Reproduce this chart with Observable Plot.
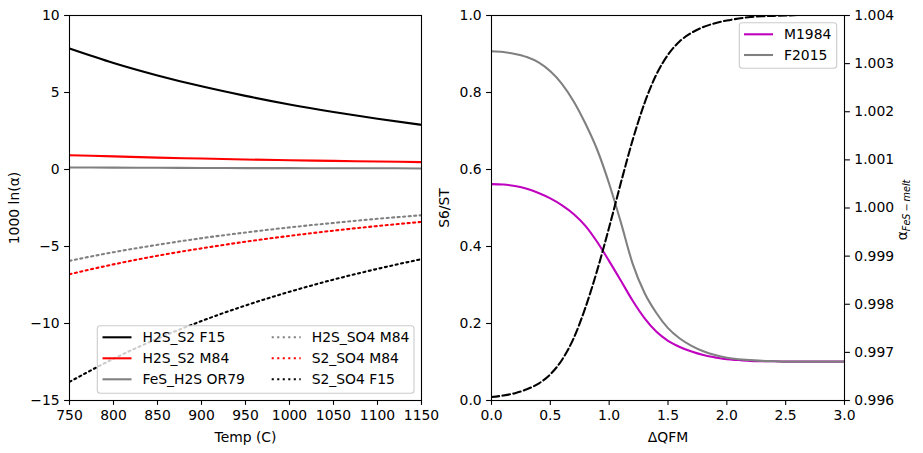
<!DOCTYPE html>
<html>
<head>
<meta charset="utf-8">
<script src="https://cdn.jsdelivr.net/npm/d3@7"></script>
<script src="https://cdn.jsdelivr.net/npm/@observablehq/plot@0.6"></script>
<style>
  body { margin: 0; background: #fff; }
  #fig { position: relative; width: 923px; height: 453px; font-family: "DejaVu Sans", sans-serif; }
  #fig svg { position: absolute; left: 0; top: 0; }
</style>
</head>
<body>
<div id="fig"></div>
<script>
// ---- Left panel: 1000 ln(alpha) versus temperature ----
const temps = [750, 800, 850, 900, 950, 1000, 1050, 1100, 1150];
const h2sS2F15   = [7.86, 6.92, 6.11, 5.40, 4.78, 4.22, 3.73, 3.29, 2.90];
const h2sS2M84   = [0.93, 0.85, 0.77, 0.71, 0.65, 0.60, 0.56, 0.52, 0.48];
const fesH2sOR79 = [0.13, 0.12, 0.11, 0.10, 0.09, 0.09, 0.08, 0.08, 0.07];
const h2sSo4M84  = [-5.93, -5.37, -4.89, -4.46, -4.09, -3.76, -3.47, -3.20, -2.97];
const s2So4M84   = [-6.80, -6.16, -5.60, -5.12, -4.69, -4.31, -3.97, -3.67, -3.40];
const s2So4F15   = [-13.79, -12.29, -10.98, -9.84, -8.83, -7.94, -7.15, -6.45, -5.82];
const leftNames = ["H2S_S2 F15", "H2S_S2 M84", "FeS_H2S OR79", "H2S_SO4 M84", "S2_SO4 M84", "S2_SO4 F15"];
const tempTicks = [750, 800, 850, 900, 950, 1000, 1050, 1100, 1150];
const lnTicks = [-15, -10, -5, 0, 5, 10];

// ---- Right panel: S6/ST and alpha(FeS-melt) versus delta QFM ----
const dQFM = [0.0, 0.1, 0.2, 0.3, 0.4, 0.5, 0.6, 0.7, 0.8, 0.9, 1.0, 1.1, 1.2, 1.3, 1.4, 1.5,
              1.6, 1.7, 1.8, 1.9, 2.0, 2.1, 2.2, 2.3, 2.4, 2.5, 2.6, 2.7, 2.8, 2.9, 3.0];
const s6M1984 = [0.562, 0.561, 0.557, 0.550, 0.539, 0.525, 0.507, 0.484, 0.453, 0.411, 0.362,
                 0.311, 0.259, 0.214, 0.179, 0.155, 0.139, 0.127, 0.118, 0.112, 0.107, 0.105,
                 0.103, 0.102, 0.102, 0.101, 0.101, 0.101, 0.101, 0.101, 0.101];
const s6F2015 = [0.907, 0.905, 0.900, 0.892, 0.878, 0.855, 0.822, 0.776, 0.718, 0.650, 0.563,
                 0.462, 0.355, 0.280, 0.228, 0.188, 0.161, 0.142, 0.128, 0.118, 0.111, 0.107,
                 0.105, 0.103, 0.102, 0.101, 0.101, 0.101, 0.101, 0.101, 0.101];
const alphaFeSMelt = [0.996072, 0.996104, 0.996152, 0.996232, 0.996352, 0.996544, 0.996848,
                      0.997304, 0.997944, 0.998720, 0.999600, 1.000528, 1.001416, 1.002176,
                      1.002768, 1.003184, 1.003464, 1.003640, 1.003760, 1.003840, 1.003896,
                      1.003936, 1.003968, 1.003984, 1.003992, 1.004000, 1.004010, 1.004020,
                      1.004020, 1.004030, 1.004030];
const rightNames = ["M1984", "F2015"];
const qfmTicks = [0, 0.5, 1, 1.5, 2, 2.5, 3];
const s6Ticks = [0, 0.2, 0.4, 0.6, 0.8, 1.0];
const alphaTicks = [0.996, 0.997, 0.998, 0.999, 1.000, 1.001, 1.002, 1.003, 1.004];

// ---- drawing ----
const W = 923, H = 453;
const LW = 2.08;                 // 1.5 pt line width
const DOT = "2.08,3.44";         // ':' style
const DASH = "7.7,3.33";         // '--' style
const style = {fontFamily: "'DejaVu Sans', sans-serif", fontSize: "13.9px", background: "transparent", color: "black", overflow: "visible"};
const tick = {tickSize: 4.9, tickPadding: 4.9, strokeWidth: 1.1};
const minusFmt = d => (d < 0 ? "\u2212" + Math.abs(d) : String(d));

const leftValues = [h2sS2F15, h2sS2M84, fesH2sOR79, h2sSo4M84, s2So4M84, s2So4F15];
const leftStroke = ["black", "red", "grey", "grey", "red", "black"];
const leftDash = [null, null, null, DOT, DOT, DOT];

const leftPlot = Plot.plot({
  width: W, height: H,
  marginLeft: 69, marginRight: W - 421, marginTop: 15, marginBottom: H - 400,
  style,
  x: {domain: [750, 1150]},
  y: {domain: [-15, 10]},
  marks: [
    ...leftValues.map((vals, i) => Plot.line(vals, {
      x: temps, y: vals, stroke: leftStroke[i], strokeWidth: LW,
      strokeDasharray: leftDash[i], curve: "monotone-x", clip: true
    })),
    Plot.frame({stroke: "black", strokeWidth: 1.1}),
    Plot.axisX({...tick, ticks: tempTicks, tickFormat: d => String(d),
      label: "Temp (C)", labelAnchor: "center", labelArrow: "none", labelOffset: 41}),
    Plot.axisY({...tick, ticks: lnTicks, tickFormat: minusFmt,
      label: "1000 ln(α)", labelAnchor: "center", labelArrow: "none", labelOffset: 60})
  ]
});

const rightValues = [s6M1984, s6F2015];
const rightStroke = ["#bf00bf", "grey"];

const rightPlot = Plot.plot({
  width: W, height: H,
  marginLeft: 491, marginRight: W - 844, marginTop: 15, marginBottom: H - 400,
  style,
  x: {domain: [0, 3]},
  y: {domain: [0, 1]},
  marks: [
    ...rightValues.map((vals, i) => Plot.line(vals, {
      x: dQFM, y: vals, stroke: rightStroke[i], strokeWidth: LW, curve: "monotone-x", clip: true
    })),
    Plot.frame({stroke: "black", strokeWidth: 1.1}),
    Plot.axisX({...tick, ticks: qfmTicks, tickFormat: d3.format(".1f"),
      label: "ΔQFM", labelAnchor: "center", labelArrow: "none", labelOffset: 41}),
    Plot.axisY({...tick, ticks: s6Ticks, tickFormat: d3.format(".1f"),
      label: "S6/ST", labelAnchor: "center", labelArrow: "none", labelOffset: 52})
  ]
});

// twin axis on the right for the fractionation factor
const alphaPlot = Plot.plot({
  width: W, height: H,
  marginLeft: 491, marginRight: W - 844, marginTop: 15, marginBottom: H - 400,
  style,
  x: {domain: [0, 3], axis: null},
  y: {domain: [0.996, 1.004], axis: null},
  marks: [
    Plot.line(alphaFeSMelt, {x: dQFM, y: alphaFeSMelt, stroke: "black", strokeWidth: LW,
      strokeDasharray: DASH, curve: "monotone-x", clip: true}),
    Plot.axisY({...tick, anchor: "right", ticks: alphaTicks, tickFormat: d3.format(".3f"), label: null})
  ]
});

const aLabel = d3.select(alphaPlot).append("text")
  .attr("transform", "translate(906.5,210) rotate(-90)")
  .attr("text-anchor", "middle")
  .attr("fill", "black")
  .attr("font-size", "13.9px");
aLabel.append("tspan").text("α");
aLabel.append("tspan").attr("font-style", "italic").attr("font-size", "9.7px").attr("dy", "3.5").text("FeS\u2009\u2212\u2009melt");

// legends
const legendSvg = d3.create("svg").attr("width", W).attr("height", H)
  .attr("font-family", "'DejaVu Sans', sans-serif").attr("font-size", "13.9px");

function drawLegend(box, entries) {
  const g = legendSvg.append("g");
  g.append("rect").attr("x", box.x).attr("y", box.y).attr("width", box.w).attr("height", box.h)
    .attr("rx", 3).attr("fill", "white").attr("fill-opacity", 0.8)
    .attr("stroke", "#cccccc").attr("stroke-width", 1.1);
  for (const e of entries) {
    g.append("line").attr("x1", e.x).attr("x2", e.x + 29).attr("y1", e.y).attr("y2", e.y)
      .attr("stroke", e.stroke).attr("stroke-width", LW).attr("stroke-dasharray", e.dash);
    g.append("text").attr("x", e.x + 40).attr("y", e.y).attr("dy", "0.35em")
      .attr("fill", "black").text(e.label);
  }
}

const leftCols = [102.5, 271.7];
const leftRows = [337.3, 358.3, 379.3];
drawLegend({x: 97.3, y: 325.7, w: 316.7, h: 67.6},
  leftNames.map((label, i) => ({
    label, stroke: leftStroke[i], dash: leftDash[i],
    x: leftCols[Math.floor(i / 3)], y: leftRows[i % 3]
  })));

const rightRows = [34.3, 55.0];
drawLegend({x: 739.3, y: 22.7, w: 97.4, h: 45.6},
  rightNames.map((label, i) => ({label, stroke: rightStroke[i], dash: null, x: 744, y: rightRows[i]})));

const fig = document.getElementById("fig");
fig.append(leftPlot, rightPlot, alphaPlot, legendSvg.node());
</script>
</body>
</html>
